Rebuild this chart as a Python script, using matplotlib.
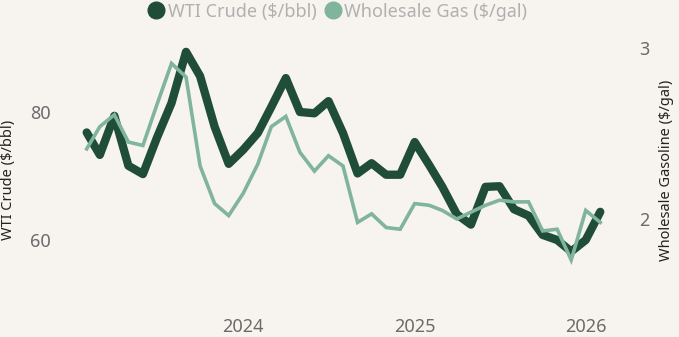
import matplotlib
matplotlib.use("Agg")
import matplotlib.pyplot as plt
import matplotlib.dates as mdates
from matplotlib.lines import Line2D
import pandas as pd

plt.rcParams['font.family'] = ['Noto Sans', 'DejaVu Sans']

# monthly values, Feb 2023 - Feb 2026
months = pd.date_range("2023-02-01", periods=37, freq="MS")
wti_crude = [76.8, 73.3, 79.4, 71.6, 70.3, 76.0, 81.4, 89.4, 85.6, 77.7, 71.9,
             74.1, 76.7, 80.8, 85.3, 80.0, 79.8, 81.7, 76.7, 70.4, 72.0, 70.2, 70.2,
             75.3, 71.7, 68.3, 64.0, 62.4, 68.3, 68.4, 64.8, 63.8, 60.8, 60.0, 58.2,
             60.0, 64.4]
wholesale_gas = [2.41, 2.54, 2.61, 2.45, 2.43, 2.67, 2.91, 2.83, 2.31, 2.09, 2.02,
                 2.15, 2.32, 2.54, 2.60, 2.39, 2.28, 2.37, 2.31, 1.98, 2.03, 1.95, 1.94,
                 2.09, 2.08, 2.05, 2.00, 2.04, 2.08, 2.11, 2.10, 2.10, 1.93, 1.94, 1.76,
                 2.05, 1.98]
year_ticks = ["2024-01-01", "2025-01-01", "2026-01-01"]
year_labels = ["2024", "2025", "2026"]

bg = "#f7f4f0"
dark = "#1f4d38"
light = "#80b49b"

fig = plt.figure(figsize=(6.79, 3.37), dpi=100, facecolor=bg)
ax = fig.add_axes([70/679, 37/337, 550/679, 260/337])
ax.set_facecolor(bg)
ax2 = ax.twinx()

ax.plot(months, wti_crude, color=dark, lw=6, solid_capstyle="round", solid_joinstyle="round", zorder=2)
ax2.plot(months, wholesale_gas, color=light, lw=2.6, solid_joinstyle="miter", zorder=3)

# x range matched to the reference
px_per_day = (414.7 - 86.7) / 700
x0 = mdates.date2num(pd.Timestamp("2023-02-01"))
ax.set_xlim(x0 - 16.7 / px_per_day, x0 + (620 - 86.7) / px_per_day)

ax.set_ylim(50.625, 91.25)
ax2.set_ylim(1.526, 3.047)
ax.set_yticks([60, 80])
ax2.set_yticks([2, 3])
ax.set_xticks(pd.to_datetime(year_ticks))
ax.set_xticklabels(year_labels)

for a in (ax, ax2):
    for s in a.spines.values():
        s.set_visible(False)
    a.tick_params(length=0, labelsize=13, labelcolor="#6b6b6b")
ax.tick_params(axis="y", pad=14)
ax2.tick_params(axis="y", pad=14)
ax.tick_params(axis="x", pad=13)

ax.set_ylabel("WTI Crude ($/bbl)", fontsize=10.5, color="#222222", va="center")
ax.yaxis.set_label_coords(-0.111, 0.46)
ax2.set_ylabel("Wholesale Gasoline ($/gal)", fontsize=10.5, color="#222222",
               rotation=90, va="center")
ax2.yaxis.set_label_coords(1.085, 0.5)

handles = [Line2D([], [], marker="o", ls="", color=dark, markersize=12),
           Line2D([], [], marker="o", ls="", color=light, markersize=12)]
fig.legend(handles, ["WTI Crude ($/bbl)", "Wholesale Gas ($/gal)"], loc="upper center",
           bbox_to_anchor=(337/679, 1.04), ncol=2, frameon=False, fontsize=13,
           labelcolor="#b0b0b0", handletextpad=0.15, columnspacing=0.4, handlelength=1.0)

fig.savefig("out.png", dpi=100, facecolor=bg)
